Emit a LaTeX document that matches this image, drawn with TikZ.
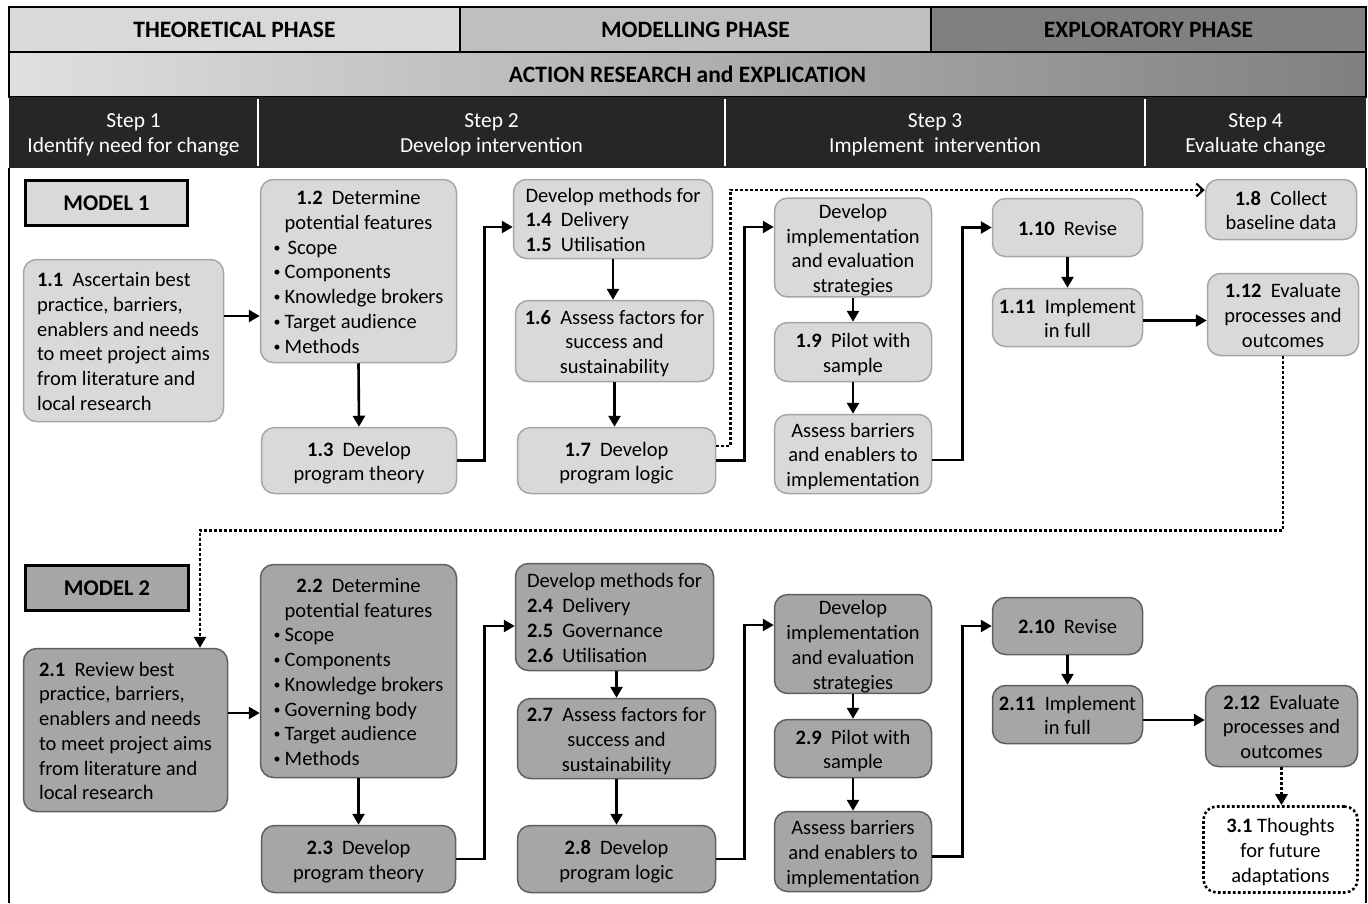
\documentclass[tikz,border=0pt]{standalone}
\usepackage{fontspec}
\setmainfont{Carlito}
\usetikzlibrary{arrows.meta,calc}
\definecolor{paleGray}{HTML}{D9D9D9}
\definecolor{midGray}{HTML}{BFBFBF}
\definecolor{deepGray}{HTML}{808080}
\definecolor{bandLeft}{HTML}{E0E0E0}
\definecolor{modelTwoFill}{HTML}{A6A6A6}
\definecolor{modelOneLine}{HTML}{A6A6A6}
\definecolor{modelTwoLine}{HTML}{5F5F5F}
\definecolor{stepBand}{HTML}{262626}
% bold item number followed by a double space
\newcommand\nr[1]{\textbf{#1}\hspace{0.45em}}
% a centred line inside a left-aligned block
\newcommand\mc[1]{\multicolumn{1}{@{}c@{}}{#1}}
% small list bullet with its indent
\newcommand\bl{\makebox[11pt][l]{\raisebox{2pt}{\fontsize{14}{14}\selectfont\textbullet}}}
% text blocks (left-aligned / centred lines), set a little low in their box
\newcommand\lblock[1]{\raisebox{-3pt}[\height][\depth]{\begin{tabular}{@{}l@{}}#1\end{tabular}}}
\newcommand\cblock[1]{\raisebox{-3pt}[\height][\depth]{\begin{tabular}{@{}c@{}}#1\end{tabular}}}
\begin{document}
\begin{tikzpicture}[x=1pt,y=-1pt,
  txt/.style={font=\fontsize{20.5}{24.7}\selectfont},
  sz/.style 2 args={minimum width=#1pt,minimum height=#2pt},
  boxbase/.style={txt,rounded corners=13pt,inner sep=0pt,line width=1.5pt,text=black},
  boxone/.style={boxbase,fill=paleGray,draw=modelOneLine},
  boxtwo/.style={boxbase,fill=modelTwoFill,draw=modelTwoLine},
  phase/.style={draw=black,line width=1.5pt,inner sep=0pt,font=\fontsize{23.5}{26}\selectfont\bfseries},
  stepcell/.style={fill=stepBand,inner sep=0pt,text=white,align=center,font=\fontsize{21.4}{25}\selectfont},
  divider/.style={white,line width=2pt},
  frame/.style={black,line width=1.8pt},
  modeltag/.style={draw=black,line width=3pt,inner sep=0pt,font=\fontsize{22.5}{25}\selectfont\bfseries},
  arr/.style={line width=2.6pt,-{Triangle[length=11pt,width=12pt]}},
  dots/.style={line width=2.6pt,dash pattern=on 2.6pt off 2.4pt},
]
\useasboundingbox (0,0) rectangle (1368,903);

% ---------- header bands ----------
\node[phase,fill=paleGray,sz={451}{45}] (ph1) at (234.5,29.5) {THEORETICAL PHASE};
\node[phase,fill=midGray,sz={471}{45}] (ph2) at (695.5,29.5) {MODELLING PHASE};
\node[phase,fill=deepGray,sz={435}{45}] (ph3) at (1148.5,29.5) {EXPLORATORY PHASE};
\node[phase,left color=bandLeft,right color=deepGray,sz={1357}{45}] (arx) at (687.5,74.5) {ACTION RESEARCH and EXPLICATION};

\node[stepcell,sz={249}{71}] (s1) at (133.5,132.5) {\raisebox{-2pt}[\height][\depth]{\begin{tabular}{@{}c@{}}Step 1\\Identify need for change\end{tabular}}};
\node[stepcell,sz={467}{71}] (s2) at (491.5,132.5) {\raisebox{-2pt}[\height][\depth]{\begin{tabular}{@{}c@{}}Step 2\\Develop intervention\end{tabular}}};
\node[stepcell,sz={420}{71}] (s3) at (935,132.5) {\raisebox{-2pt}[\height][\depth]{\begin{tabular}{@{}c@{}}Step 3\\Implement\ \ intervention\end{tabular}}};
\node[stepcell,sz={221}{71}] (s4) at (1255.5,132.5) {\raisebox{-2pt}[\height][\depth]{\begin{tabular}{@{}c@{}}Step 4\\Evaluate change\end{tabular}}};
\draw[divider] ([yshift=-2pt]s1.north east) -- ([yshift=2pt]s1.south east);
\draw[divider] ([yshift=-2pt]s2.north east) -- ([yshift=2pt]s2.south east);
\draw[divider] ([yshift=-2pt]s3.north east) -- ([yshift=2pt]s3.south east);

% ---------- side frame of the body ----------
\draw[frame] (s1.south west) -- (s1.south west |- 0,903);
\draw[frame] (s4.south east) -- (s4.south east |- 0,903);

% ---------- model 1 ----------
\node[modeltag,fill=paleGray,sz={162}{45}] (m1) at (106.5,203) {MODEL 1};

\node[boxone,sz={200}{162}] (n11) at (123.5,340.5)
  {\lblock{\nr{1.1}Ascertain best\\practice, barriers,\\enablers and needs\\to meet project aims\\from literature and\\local research}};
\node[boxone,sz={196}{183}] (n12) at (358.5,271)
  {\lblock{\mc{\nr{1.2}Determine}\\\mc{potential features}\\\bl\hspace{3pt}Scope\\\bl Components\\\bl Knowledge brokers\\\bl Target audience\\\bl Methods}};
\node[boxone,sz={195}{66}] (n13) at (359,460.5) {\cblock{\nr{1.3}Develop\\program theory}};
\node[boxone,sz={199}{79}] (n14) at (613,219) {\lblock{\mc{Develop methods for}\\\nr{1.4}Delivery\\\nr{1.5}Utilisation}};
\node[boxone,sz={198}{81}] (n16) at (614.5,341) {\cblock{\nr{1.6}Assess factors for\\success and\\sustainability}};
\node[boxone,sz={198}{66}] (n17) at (616.5,460.5) {\cblock{\nr{1.7}Develop\\program logic}};
\node[boxone,sz={157}{96}] (nd1) at (853,247.5) {\cblock{Develop\\implementation\\and evaluation\\strategies}};
\node[boxone,sz={157}{59}] (n19) at (853,352) {\cblock{\nr{1.9}Pilot with\\sample}};
\node[boxone,sz={157}{79}] (na1) at (853,454) {\cblock{Assess barriers\\and enablers to\\implementation}};
\node[boxone,sz={150}{58}] (n110) at (1067.5,227.5) {\cblock{\nr{1.10}Revise}};
\node[boxone,sz={150}{58}] (n111) at (1067.5,317.5) {\cblock{\nr{1.11}Implement\\in full}};
\node[boxone,sz={151}{60}] (n18) at (1281,209.5) {\cblock{\nr{1.8}Collect\\baseline data}};
\node[boxone,sz={151}{82}] (n112) at (1283,314.5) {\cblock{\nr{1.12}Evaluate\\processes and\\outcomes}};

% model 1 connectors
\coordinate (p11) at ([yshift=24.5pt]n11.east);
\draw[arr] (p11) -- (p11 -| n12.west);
\draw[arr] (n12.south) -- (n13.north);
\draw[arr] (n13.east) -- ++(27,0) |- ([yshift=-8pt]n14.west);
\draw[arr] (n14.south) -- (n14.south |- n16.north);
\draw[arr] (n16.south) -- (n16.south |- n17.north);
\draw[arr] (n17.east) -- ++(28,0) |- ([yshift=20.5pt]nd1.west);
\draw[dots,-{Straight Barb[length=7pt,width=13pt,line width=2pt]}]
  ([yshift=14.5pt]n17.east) -- ++(14,0) |- ([yshift=19.5pt]n18.west);
\draw[arr] (nd1.south) -- (n19.north);
\draw[arr] (n19.south) -- (na1.north);
\draw[arr] ([yshift=-6pt]na1.east) -- ++(30,0) |- (n110.west);
\draw[arr] (n110.south) -- (n111.north);
\coordinate (p111) at ([yshift=-3pt]n111.east);
\draw[arr] (p111) -- (p111 -| n112.west);

% ---------- model 2 ----------
\node[modeltag,fill=modelTwoFill,sz={163}{45}] (m2) at (107,588) {MODEL 2};

\node[boxtwo,sz={204}{163}] (n21) at (125.5,730)
  {\lblock{\nr{2.1}Review best\\practice, barriers,\\enablers and needs\\to meet project aims\\from literature and\\local research}};
\node[boxtwo,sz={196}{213}] (n22) at (358.5,671)
  {\lblock{\mc{\nr{2.2}Determine}\\\mc{potential features}\\\bl Scope\\\bl Components\\\bl Knowledge brokers\\\bl Governing body\\\bl Target audience\\\bl Methods}};
\node[boxtwo,sz={194}{67}] (n23) at (358.5,859) {\cblock{\nr{2.3}Develop\\program theory}};
\node[boxtwo,sz={198}{107}] (n24) at (614.5,617) {\lblock{\mc{Develop methods for}\\\nr{2.4}Delivery\\\nr{2.5}Governance\\\nr{2.6}Utilisation}};
\node[boxtwo,sz={198}{80}] (n27) at (616.5,738.5) {\cblock{\nr{2.7}Assess factors for\\success and\\sustainability}};
\node[boxtwo,sz={198}{67}] (n28) at (616.5,859) {\cblock{\nr{2.8}Develop\\program logic}};
\node[boxtwo,sz={157}{97}] (nd2) at (853,644) {\cblock{Develop\\implementation\\and evaluation\\strategies}};
\node[boxtwo,sz={157}{58}] (n29) at (853,748.5) {\cblock{\nr{2.9}Pilot with\\sample}};
\node[boxtwo,sz={157}{80}] (na2) at (853,851.5) {\cblock{Assess barriers\\and enablers to\\implementation}};
\node[boxtwo,sz={150}{57}] (n210) at (1067.5,626) {\cblock{\nr{2.10}Revise}};
\node[boxtwo,sz={150}{58}] (n211) at (1067.5,714.5) {\cblock{\nr{2.11}Implement\\in full}};
\node[boxtwo,sz={152}{81}] (n212) at (1281.5,726) {\cblock{\nr{2.12}Evaluate\\processes and\\outcomes}};
\node[boxbase,fill=white,draw=black,dots,sz={154}{86}] (n31) at (1280.5,849.5) {\cblock{\textbf{3.1} Thoughts\\for future\\adaptations}};

% link from model 1 evaluation down to model 2
\draw[dots,-{Triangle[length=11pt,width=12pt]}]
  (n112.south) -- ++(0,174) -| ([xshift=74.5pt]n21.north);

% model 2 connectors
\coordinate (p21) at ([yshift=17pt]n21.east);
\draw[arr] (p21) -- (p21 -| n22.west);
\draw[arr] (n22.south) -- (n22.south |- n23.north);
\draw[arr] (n23.east) -- ++(28,0) |- ([yshift=-9pt]n24.west);
\draw[arr] (n27.north |- n24.south) -- (n27.north);
\draw[arr] (n27.south) -- (n28.north);
\draw[arr] (n28.east) -- ++(28,0) |- ([yshift=19pt]nd2.west);
\draw[arr] (nd2.south) -- (n29.north);
\draw[arr] (n29.south) -- (na2.north);
\draw[arr] ([yshift=-5pt]na2.east) -- ++(30,0) |- (n210.west);
\draw[arr] (n210.south) -- (n211.north);
\coordinate (p211) at ([yshift=-5.5pt]n211.east);
\draw[arr] (p211) -- (p211 -| n212.west);
\draw[dots,-{Triangle[length=11pt,width=12pt]}] (n212.south) -- (n212.south |- n31.north);
\end{tikzpicture}
\end{document}
